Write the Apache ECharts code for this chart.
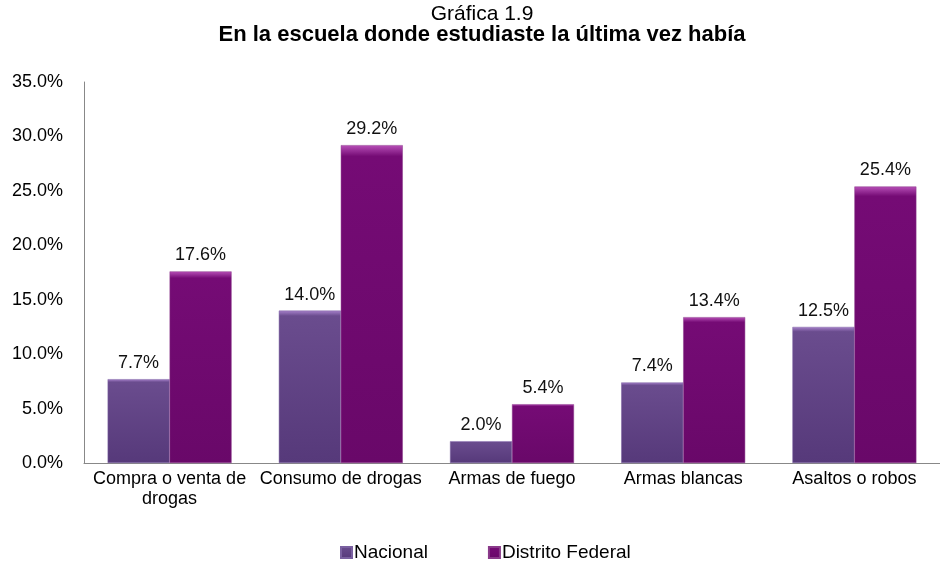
<!DOCTYPE html>
<html><head><meta charset="utf-8">
<script src="https://cdn.jsdelivr.net/npm/echarts@6/dist/echarts.min.js"></script>
<style>html,body{margin:0;padding:0;background:#fff}#c{width:940px;height:567px}</style>
</head><body><div id="c"></div>
<script>
var categories = ['Compra o venta de\ndrogas', 'Consumo de drogas', 'Armas de fuego', 'Armas blancas', 'Asaltos o robos'];
var nacional = [7.7, 14.0, 2.0, 7.4, 12.5];
var distritoFederal = [17.6, 29.2, 5.4, 13.4, 25.4];
var seriesNames = ['Nacional', 'Distrito Federal'];

var chart = echarts.init(document.getElementById('c'), null, {renderer: 'canvas'});
var font = 'Liberation Sans, Arial, sans-serif';
function grad(top, mid, bot) {
  return new echarts.graphic.LinearGradient(0, 0, 0, 1, [
    {offset: 0, color: top}, {offset: 0.035, color: mid}, {offset: 1, color: bot}
  ]);
}
var lbl = {show: true, position: 'top', distance: 7, fontFamily: font, fontSize: 18, color: '#111',
  formatter: function (p) { return p.value.toFixed(1) + '%'; }};
chart.setOption({
  animation: false,
  title: [
    {text: 'Gráfica 1.9', left: 477, textAlign: 'center', top: -1,
     textStyle: {fontFamily: font, fontSize: 21, fontWeight: 'normal', color: '#000'}},
    {text: 'En la escuela donde estudiaste la última vez había', left: 477, textAlign: 'center', top: 19,
     textStyle: {fontFamily: font, fontSize: 22, fontWeight: 'bold', color: '#000'}}
  ],
  legend: {
    bottom: 0, left: 335, itemGap: 60, itemWidth: 11, itemHeight: 11, icon: 'rect',
    textStyle: {fontFamily: font, fontSize: 19, color: '#000', padding: [0, 0, 0, -3]},
    data: seriesNames
  },
  grid: {left: 84, top: 82, width: 870, height: 381, containLabel: false},
  xAxis: {
    type: 'category', data: categories,
    axisLine: {lineStyle: {color: '#888'}}, axisTick: {show: false},
    axisLabel: {fontFamily: font, fontSize: 18, color: '#000', margin: 6, lineHeight: 20, interval: 0}
  },
  yAxis: {
    type: 'value', min: 0, max: 35, interval: 5,
    axisLine: {show: true, lineStyle: {color: '#888'}}, axisTick: {show: false},
    splitLine: {show: false},
    axisLabel: {fontFamily: font, fontSize: 18, color: '#000', margin: 21,
      formatter: function (v) { return v.toFixed(1) + '%'; }}
  },
  series: [
    {name: seriesNames[0], type: 'bar', data: nacional, barGap: '0%', barCategoryGap: '27.6%',
     itemStyle: {color: grad('#a882cc', '#6a4c8e', '#56397a'), borderColor: '#7a60a0', borderWidth: 0.5},
     label: lbl},
    {name: seriesNames[1], type: 'bar', data: distritoFederal,
     itemStyle: {color: grad('#b850b8', '#750b75', '#690869'), borderColor: '#8a3a8a', borderWidth: 0.5},
     label: lbl}
  ]
});
</script></body></html>
